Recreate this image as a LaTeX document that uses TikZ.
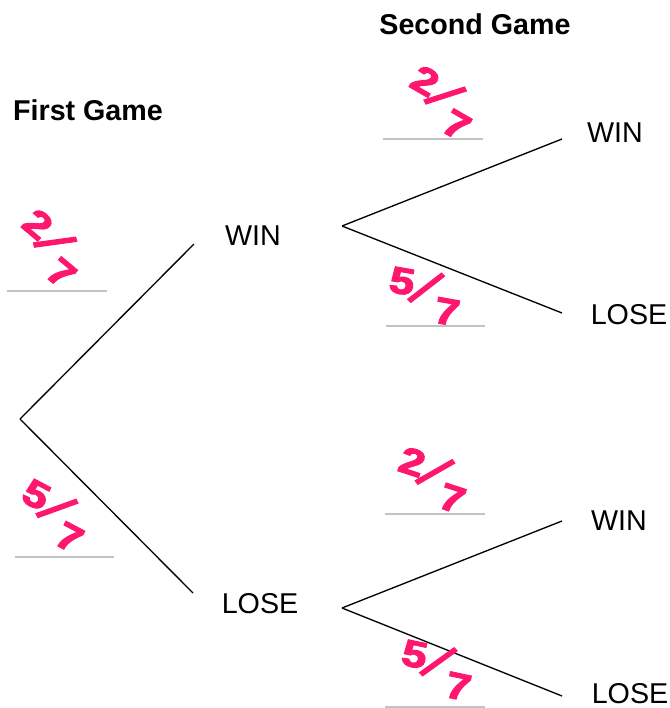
\documentclass[tikz,border=0pt]{standalone}
\usepackage{fontspec}
\setmainfont{Liberation Sans}
\newfontfamily\handfont{Liberation Sans}[BoldFeatures={FakeBold=3}]
\usepackage{graphicx}
\usepackage{xcolor}
\usepackage{tikz}
\usetikzlibrary{positioning}
\definecolor{inkpink}{RGB}{255,22,110}
\definecolor{blankgrey}{RGB}{194,194,194}
\newcommand{\slantfrac}[2]{\raisebox{0.3em}{\scalebox{1.2}[1]{#1}}\kern-3pt\raisebox{0.05em}{\rotatebox[origin=c]{-35}{\scalebox{1}[1.5]{/}}}\kern-3pt\raisebox{-0.3em}{\scalebox{1.2}[1]{#2}}}

\begin{document}
\begin{tikzpicture}[
  x=0.75pt, y=-0.75pt,
  heading/.style={inner sep=0pt, font=\fontsize{21.5}{26}\selectfont\bfseries},
  outcome/.style={inner sep=0pt, font=\fontsize{21.5}{26}\selectfont},
  answer/.style={inner sep=0pt, text=inkpink, font=\handfont\fontsize{28}{32}\selectfont\bfseries},
  branch/.style={line width=1pt},
  blank/.style={draw=blankgrey, line width=1.5pt}
]
\useasboundingbox (0,0) rectangle (669,708);

\node[heading] (first) at (88,110) {First Game};
\node[heading] (second) at (475,24) {Second Game};

% first game
\coordinate (root) at (20,419);
\coordinate (winend) at (194,244);
\coordinate (loseend) at (193,593);
\node[outcome] (win) at (253,236) {WIN};
\node[outcome] (lose) at (260,604) {LOSE};
\draw[branch] (root) -- (winend);
\draw[branch] (root) -- (loseend);

% second game after a win
\coordinate (winfork) at (342,226);
\coordinate (ww) at (562,139);
\coordinate (wl) at (562,313);
\node[outcome] (winwin) at (615,133) {WIN};
\node[outcome] (winlose) at (629,315) {LOSE};
\draw[branch] (winfork) -- (ww);
\draw[branch] (winfork) -- (wl);

% second game after a loss
\coordinate (losefork) at (342,608);
\coordinate (lw) at (562,521);
\coordinate (ll) at (562,696);
\node[outcome] (losewin) at (619,521) {WIN};
\node[outcome] (loselose) at (630,694) {LOSE};
\draw[branch] (losefork) -- (lw);
\draw[branch] (losefork) -- (ll);

% answer blanks
\draw[blank] (7,291) -- (107,291);
\draw[blank] (15,557) -- (114,557);
\draw[blank] (383,139) -- (483,139);
\draw[blank] (386,326) -- (485,326);
\draw[blank] (385,514) -- (485,514);
\draw[blank] (385,707) -- (485,707);

\node[answer, rotate=-40] (pw) at (51,247) {\slantfrac{2}{7}};
\node[answer, rotate=-28] (pl) at (54,514) {\slantfrac{5}{7}};
\node[answer, rotate=-30] (pww) at (442,101) {\slantfrac{2}{7}};
\node[answer, rotate=-10] (pwl) at (425,294) {\slantfrac{5}{7}};
\node[answer, rotate=-18] (plw) at (433,478) {\slantfrac{2}{7}};
\node[answer, rotate=-12] (pll) at (437,668) {\slantfrac{5}{7}};
\end{tikzpicture}
\end{document}
